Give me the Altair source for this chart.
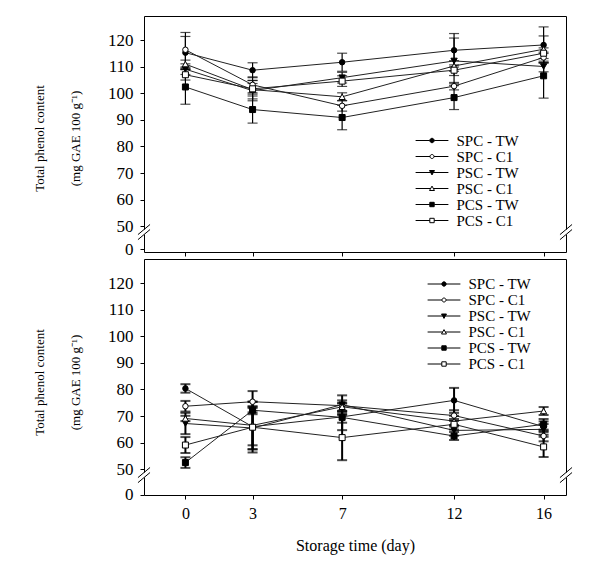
import math
import altair as alt
import pandas as pd

FONT = "Liberation Serif"

days = [0, 3, 7, 12, 16]
series = ["SPC - TW", "SPC - C1", "PSC - TW", "PSC - C1", "PCS - TW", "PCS - C1"]

# ---- top panel: means and SD ----
top_spc_tw = [115.3, 108.7, 111.7, 116.2, 118.2]
top_spc_c1 = [116.4, 103.2, 95.3, 102.7, 113.5]
top_psc_tw = [109.1, 101.0, 105.9, 112.2, 110.1]
top_psc_c1 = [111.0, 101.4, 98.7, 110.3, 116.6]
top_pcs_tw = [102.4, 93.9, 90.9, 98.4, 106.6]
top_pcs_c1 = [107.0, 101.7, 104.6, 108.7, 115.1]

top_spc_tw_sd = [6.1, 2.8, 3.4, 6.3, 6.8]
top_spc_c1_sd = [6.5, 3.0, 2.0, 1.4, 2.0]
top_psc_tw_sd = [2.0, 3.8, 2.0, 8.6, 2.0]
top_psc_c1_sd = [1.5, 3.5, 1.5, 2.0, 5.0]
top_pcs_tw_sd = [6.5, 5.1, 4.6, 4.5, 8.4]
top_pcs_c1_sd = [2.0, 2.0, 2.0, 2.0, 2.0]

# ---- bottom panel: means and SD ----
bot_spc_tw = [80.4, 66.0, 69.7, 75.9, 66.0]
bot_spc_c1 = [73.7, 75.4, 73.9, 70.2, 62.5]
bot_psc_tw = [67.2, 65.5, 74.3, 64.6, 65.0]
bot_psc_c1 = [69.1, 66.5, 73.5, 68.1, 71.9]
bot_pcs_tw = [52.5, 72.2, 69.5, 62.5, 66.9]
bot_pcs_c1 = [59.1, 65.8, 61.9, 66.9, 58.4]

bot_spc_tw_sd = [1.6, 7.0, 5.0, 4.7, 2.0]
bot_spc_c1_sd = [2.0, 4.0, 2.0, 2.0, 2.0]
bot_psc_tw_sd = [4.0, 8.0, 3.5, 2.0, 2.0]
bot_psc_c1_sd = [1.0, 9.0, 1.5, 2.0, 1.5]
bot_pcs_tw_sd = [2.0, 1.5, 2.0, 1.5, 2.0]
bot_pcs_c1_sd = [3.0, 9.5, 8.5, 2.0, 3.8]

top_means = [top_spc_tw, top_spc_c1, top_psc_tw, top_psc_c1, top_pcs_tw, top_pcs_c1]
top_sds = [top_spc_tw_sd, top_spc_c1_sd, top_psc_tw_sd, top_psc_c1_sd, top_pcs_tw_sd, top_pcs_c1_sd]
bot_means = [bot_spc_tw, bot_spc_c1, bot_psc_tw, bot_psc_c1, bot_pcs_tw, bot_pcs_c1]
bot_sds = [bot_spc_tw_sd, bot_spc_c1_sd, bot_psc_tw_sd, bot_psc_c1_sd, bot_pcs_tw_sd, bot_pcs_c1_sd]

y_ticks = [50, 60, 70, 80, 90, 100, 110, 120]
x_domain = [-1.85, 17.0]
y_domain = [40.3, 129.1]
y_title = ["Total phenol content", "(mg GAE 100 g\u207b\u00b9)"]
x_title = "Storage time (day)"


# ---- styles ----
def circle_path(r, n=16):
    pts = ["%.3f,%.3f" % (r * math.cos(2 * math.pi * k / n), r * math.sin(2 * math.pi * k / n))
           for k in range(n)]
    return "M" + "L".join(pts) + "Z"


point_shapes = ["circle", "circle", "triangle-down", "triangle-up", "square", "square"]
point_fills = ["black", "white", "black", "white", "black", "white"]
point_sizes = [30, 30, 40, 40, 36, 36]
legend_paths = [
    "M-4.1,0H-0.55M0.55,0H4.1" + circle_path(0.55),
    "M-4.1,0H-0.5M0.5,0H4.1" + circle_path(0.5),
    "M-4.1,0H-0.34M0.34,0H4.1M-0.62,-0.5L0.62,-0.5L0,0.6Z",
    "M-4.1,0H-0.34M0.34,0H4.1M-0.62,0.5L0.62,0.5L0,-0.6Z",
    "M-4.1,0H-0.55M0.55,0H4.1M-0.55,-0.55H0.55V0.55H-0.55Z",
    "M-4.1,0H-0.55M0.55,0H4.1M-0.55,-0.55H0.55V0.55H-0.55Z",
]

PLOT_W = 422
PLOT_H = 236


def build_panel(means, sds, zero_value, show_x, legend_x, legend_y, bar_width, title_y):
    rows = []
    for s, m_list, sd_list, shp, fl, sz in zip(series, means, sds, point_shapes, point_fills, point_sizes):
        for d, m, e in zip(days, m_list, sd_list):
            rows.append({"series": s, "day": d, "mean": m, "lo": m - e, "hi": m + e,
                         "shape": shp, "fill": fl, "size": sz})
    df = pd.DataFrame(rows)
    caps = df.melt(id_vars=["series", "day"], value_vars=["lo", "hi"], value_name="cap")

    x_scale = alt.Scale(domain=x_domain, nice=False, zero=False)
    y_scale = alt.Scale(domain=y_domain, nice=False, zero=False)

    x_axis_kw = dict(values=days, tickSize=4, labelFontSize=16, labelPadding=6,
                     titleFontSize=16, titlePadding=16, labels=show_x)
    if show_x:
        x_axis = alt.Axis(title=x_title, **x_axis_kw)
    else:
        x_axis = alt.Axis(title=None, **x_axis_kw)
    y_axis = alt.Axis(values=[zero_value] + y_ticks,
                      labelExpr="datum.value < 45 ? '0' : datum.label",
                      title=y_title, titleX=-98, titleY=title_y, titleLineHeight=36,
                      titleFontSize=13, labelFontSize=17, tickSize=4, labelPadding=7)

    X = alt.X("day:Q", scale=x_scale, axis=x_axis)

    lines = alt.Chart(df).mark_line(color="#222222", strokeWidth=1).encode(
        x=X, y=alt.Y("mean:Q", scale=y_scale, axis=y_axis), detail="series:N", order="day:Q")

    bars = alt.Chart(df).mark_rule(color="black", strokeWidth=bar_width).encode(
        x=X, y=alt.Y("lo:Q", scale=y_scale, axis=y_axis), y2="hi:Q")

    cap_marks = alt.Chart(caps).mark_tick(orient="horizontal", size=10, thickness=bar_width,
                                          color="black").encode(
        x=X, y=alt.Y("cap:Q", scale=y_scale, axis=y_axis))

    points = alt.Chart(df).mark_point(filled=True, stroke="black", strokeWidth=1, opacity=1).encode(
        x=X, y=alt.Y("mean:Q", scale=y_scale, axis=y_axis),
        shape=alt.Shape("shape:N", scale=None),
        fill=alt.Fill("fill:N", scale=None),
        size=alt.Size("size:Q", scale=None))

    legend = alt.Legend(orient="none", legendX=legend_x, legendY=legend_y, title=None,
                        symbolSize=64, labelOffset=17, rowPadding=0, padding=0,
                        symbolStrokeColor="black", symbolStrokeWidth=1, symbolOpacity=1,
                        labelFontSize=15, labelFont=FONT, labelColor="black")
    legend_layer = alt.Chart(df).mark_point(filled=True, stroke="black", opacity=0).encode(
        x=X, y=alt.Y("mean:Q", scale=y_scale, axis=y_axis),
        shape=alt.Shape("series:N", scale=alt.Scale(domain=series, range=legend_paths), legend=legend),
        fill=alt.Fill("series:N", scale=alt.Scale(domain=series, range=point_fills), legend=legend))

    # axis-break marks on the left and right frame edges
    brk = []
    for edge in x_domain:
        for c in (48.75, 46.85):
            brk.append({"x": edge - 0.27, "x2": edge + 0.27, "y": c - 1.9, "y2": c + 1.9})
    brk_df = pd.DataFrame(brk)
    gap_df = pd.DataFrame({"x": x_domain, "y": [46.85, 46.85], "y2": [48.75, 48.75]})
    gaps = alt.Chart(gap_df).mark_rule(color="white", strokeWidth=3).encode(
        x=alt.X("x:Q", scale=x_scale, axis=x_axis), y=alt.Y("y:Q", scale=y_scale, axis=y_axis), y2="y2:Q")
    slashes = alt.Chart(brk_df).mark_rule(color="black", strokeWidth=1).encode(
        x=alt.X("x:Q", scale=x_scale, axis=x_axis), x2="x2:Q",
        y=alt.Y("y:Q", scale=y_scale, axis=y_axis), y2="y2:Q")

    return alt.layer(lines, bars, cap_marks, points, legend_layer, gaps, slashes).properties(
        width=PLOT_W, height=PLOT_H)


top = build_panel(top_means, top_sds, 41.4, False, 280.5, 117, 1.2, 122)
bottom = build_panel(bot_means, bot_sds, 40.4, True, 292.5, 17.5, 2, 123)

chart = alt.vconcat(top, bottom, spacing=0).resolve_scale(
    shape="independent", fill="independent"
).resolve_legend(shape="independent", fill="independent").properties(
    padding={"left": 24, "top": 7, "right": 5, "bottom": 5}
).configure_view(stroke="black", strokeWidth=1).configure_axis(
    grid=False, domain=False, labelFont=FONT, titleFont=FONT, labelColor="black",
    titleColor="black", tickColor="black", titleFontWeight="normal"
).configure_axisY(labelFontSize=17).configure_legend(labelFont=FONT, labelColor="black")

chart.save("out.html", embed_options={"renderer": "svg", "actions": False})
